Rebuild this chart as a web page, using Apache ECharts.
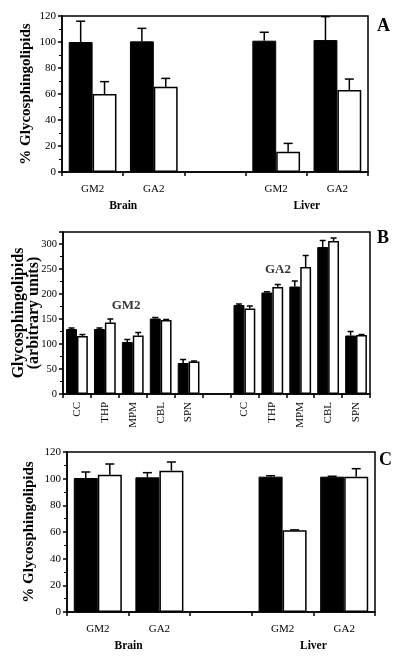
<!DOCTYPE html>
<html><head><meta charset="utf-8">
<script src="https://cdn.jsdelivr.net/npm/echarts@6/dist/echarts.min.js"></script>
<style>html,body{margin:0;padding:0;background:#fff}#c{width:400px;height:657px}</style>
</head><body><div id="c"></div>
<script>
// ---- Panel A ----
const catA = ['GM2', 'GA2', '', 'GM2', 'GA2'];
const groupPosA = [1, 4];
const groupLabelsA = ['Brain', 'Liver'];
const aBlack = [100, 100.5, null, 101, 101.5];
const aBlackErr = [16, 10, null, 6.5, 18];
const aWhite = [60, 65.5, null, 15.5, 63];
const aWhiteErr = [9.5, 6.5, null, 6.5, 8.5];

// ---- Panel B ----
const catB = ['CC', 'THP', 'MPM', 'CBL', 'SPN', '', 'CC', 'THP', 'MPM', 'CBL', 'SPN'];
const bBlack = [130, 130, 104, 151, 62, null, 178, 203, 215, 294, 117];
const bBlackErr = [2, 2, 5, 2, 7, null, 2, 1.5, 11, 13, 8];
const bWhite = [116, 143, 117, 148, 65, null, 171, 214, 254, 306, 118];
const bWhiteErr = [3, 7, 6, 1, 1, null, 5, 5, 23, 6, 1];
// annotation: [position along axis in category widths, value, text]
const bNotes = [[2.26, 176, 'GM2'], [7.7, 248, 'GA2']];

// ---- Panel C ----
const catC = ['GM2', 'GA2', '', 'GM2', 'GA2'];
const groupPosC = [1, 4];
const groupLabelsC = ['Brain', 'Liver'];
const cBlack = [100.5, 101, null, 101.5, 101.5];
const cBlackErr = [4.5, 3.5, null, 0.7, 0.3];
const cWhite = [103, 106, null, 61.3, 101.5];
const cWhiteErr = [8, 6.5, null, 0.3, 6];

const FONT = 'Liberation Serif';
const GAP = 0.22;

function errSeries(gi, vals, errs, side, cap) {
  const data = [];
  vals.forEach((v, i) => { if (v != null) data.push([i, v, errs[i], side]); });
  return {
    type: 'custom', xAxisIndex: gi * 2, yAxisIndex: gi, z: 10, data: data,
    encode: { x: 0, y: 1 },
    renderItem: function (params, api) {
      const i = api.value(0), v = api.value(1), e = api.value(2), s = api.value(3);
      const base = api.coord([i, v]);
      const top = api.coord([i, v + e]);
      const band = api.size([1, 0])[0];
      const bw = band * (1 - GAP) / 2;
      const x = base[0] + s * bw / 2;
      return {
        type: 'group', children: [
          { type: 'line', shape: { x1: x, y1: base[1], x2: x, y2: top[1] }, style: { stroke: '#000', lineWidth: 1.5 } },
          { type: 'line', shape: { x1: x - cap / 2, y1: top[1], x2: x + cap / 2, y2: top[1] }, style: { stroke: '#000', lineWidth: 1.5 } }
        ]
      };
    }
  };
}

function barPair(gi, black, white) {
  return [
    { type: 'bar', xAxisIndex: gi * 2, yAxisIndex: gi, data: black, barGap: '0%', barCategoryGap: (GAP * 100) + '%',
      itemStyle: { color: '#000', borderColor: '#000', borderWidth: 1 } },
    { type: 'bar', xAxisIndex: gi * 2, yAxisIndex: gi, data: white, barGap: '0%', barCategoryGap: (GAP * 100) + '%',
      itemStyle: { color: '#fff', borderColor: '#000', borderWidth: 1.5 } }
  ];
}

const axisLineStyle = { lineStyle: { color: '#000', width: 1.5 } };

function catAxis(gi, cats, rotate, margin, fs) {
  return {
    type: 'category', gridIndex: gi, data: cats, position: 'bottom',
    axisLine: axisLineStyle,
    axisTick: { show: true, length: 4, lineStyle: { color: '#000', width: 1.5 } },
    axisLabel: { color: '#000', fontFamily: FONT, fontSize: fs, rotate: rotate, margin: margin, interval: 0 }
  };
}
function groupAxis(gi, pos, labels, n, offset) {
  return {
    type: 'value', gridIndex: gi, position: 'bottom', min: 0, max: n, interval: 1, offset: offset,
    axisLine: { show: false }, axisTick: { show: false }, splitLine: { show: false },
    axisLabel: { color: '#000', fontFamily: FONT, fontSize: 11.5, fontWeight: 'bold', showMinLabel: true, showMaxLabel: true,
      formatter: function (v) { const k = pos.indexOf(v); return k >= 0 ? labels[k] : ''; } }
  };
}
function noneAxis(gi, n) {
  return { type: 'value', gridIndex: gi, show: false, min: 0, max: n };
}
function valAxis(gi, max, interval, name, nameGap, nameSize, lh, fs, showMax) {
  return {
    type: 'value', gridIndex: gi, min: 0, max: max, interval: interval,
    name: name, nameLocation: 'middle', nameGap: nameGap, nameMoveOverlap: false,
    nameTextStyle: { color: '#000', fontFamily: FONT, fontWeight: 'bold', fontSize: nameSize, lineHeight: lh },
    axisLine: { show: true, lineStyle: { color: '#000', width: 1.5 } },
    axisTick: { show: true, length: 4, lineStyle: { color: '#000', width: 1.5 } },
    minorTick: { show: true, splitNumber: 2, length: 3, lineStyle: { color: '#000', width: 1 } },
    splitLine: { show: false },
    axisLabel: { color: '#000', fontFamily: FONT, fontSize: fs, margin: 6, showMaxLabel: showMax,
      formatter: function (v) { return (v % interval === 0) ? String(v) : ''; } }
  };
}

const chart = echarts.init(document.getElementById('c'), null, { renderer: 'canvas' });
const gridStyle = { show: true, borderColor: '#000', borderWidth: 1.5, backgroundColor: 'transparent', containLabel: false, outerBoundsMode: 'none' };

const series = [];
series.push(...barPair(0, aBlack, aWhite));
series.push(errSeries(0, aBlack, aBlackErr, -1, 9), errSeries(0, aWhite, aWhiteErr, 1, 9));
series.push(...barPair(1, bBlack, bWhite));
series.push(errSeries(1, bBlack, bBlackErr, -1, 6), errSeries(1, bWhite, bWhiteErr, 1, 6));
series.push(...barPair(2, cBlack, cWhite));
series.push(errSeries(2, cBlack, cBlackErr, -1, 9), errSeries(2, cWhite, cWhiteErr, 1, 9));
series.push({
  type: 'scatter', xAxisIndex: 3, yAxisIndex: 1, symbolSize: 0, data: bNotes.map(n => [n[0], n[1], n[2]]),
  label: { show: true, position: 'inside', color: '#000', fontFamily: FONT, fontWeight: 'bold', fontSize: 13,
    formatter: p => p.value[2] }
});

chart.setOption({
  animation: false,
  backgroundColor: '#fff',
  title: [
    { text: 'A', left: 372, top: 12, textStyle: { fontFamily: FONT, fontWeight: 'bold', fontSize: 18, color: '#000' } },
    { text: 'B', left: 372, top: 224, textStyle: { fontFamily: FONT, fontWeight: 'bold', fontSize: 18, color: '#000' } },
    { text: 'C', left: 374, top: 446, textStyle: { fontFamily: FONT, fontWeight: 'bold', fontSize: 18, color: '#000' } }
  ],
  grid: [
    Object.assign({ left: 62, top: 16, width: 306, height: 156 }, gridStyle),
    Object.assign({ left: 63, top: 232, width: 307, height: 162 }, gridStyle),
    Object.assign({ left: 67, top: 452, width: 308, height: 160 }, gridStyle)
  ],
  xAxis: [
    catAxis(0, catA, 0, 12, 11), groupAxis(0, groupPosA, groupLabelsA, 5, 20),
    catAxis(1, catB, 90, 8, 11), noneAxis(1, 11),
    catAxis(2, catC, 0, 12, 11), groupAxis(2, groupPosC, groupLabelsC, 5, 20)
  ],
  yAxis: [
    valAxis(0, 120, 20, '% Glycosphingolipids', 28, 15, 16, 11, true),
    valAxis(1, 324, 50, 'Glycosphingolipids\n(arbitrary units)', 21, 16, 15.5, 10.5, false),
    valAxis(2, 120, 20, '% Glycosphingolipids', 30, 15, 16, 11, true)
  ],
  series: series
});
</script></body></html>
